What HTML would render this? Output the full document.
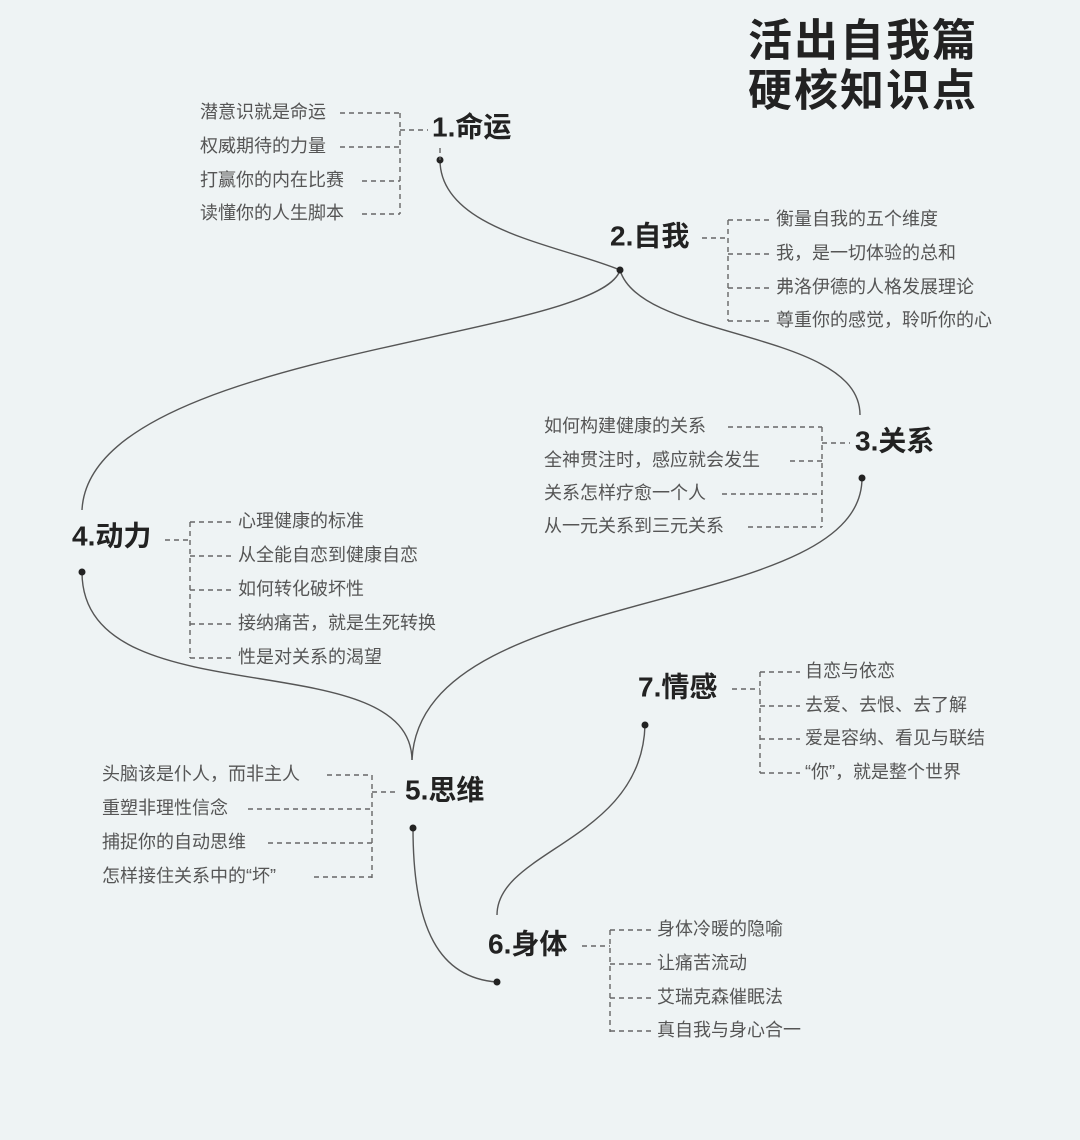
<!DOCTYPE html>
<html><head><meta charset="utf-8"><style>
html,body{margin:0;padding:0;background:#eef3f4;}
svg{display:block;font-family:"Liberation Sans","Noto Sans CJK SC",sans-serif;}
.t{font-size:18px;fill:#555;dominant-baseline:middle;}
.n{font-size:28px;fill:#222;dominant-baseline:middle;font-weight:bold;}
.d{stroke:#666;stroke-width:1.4;stroke-dasharray:5,4;fill:none;}
.c{stroke:#555;stroke-width:1.4;fill:none;}
</style></head><body>
<svg width="1080" height="1140" viewBox="0 0 1080 1140">
<rect width="1080" height="1140" fill="#eef3f4"/>
<text x="748" y="44" style="font-size:44px;fill:#222;dominant-baseline:middle;letter-spacing:2px;font-weight:bold">活出自我篇</text>
<text x="748" y="94" style="font-size:44px;fill:#222;dominant-baseline:middle;letter-spacing:2px;font-weight:bold">硬核知识点</text>

<!-- curves -->
<path class="c" d="M440,160 C440,230 560,245 620,270"/>
<path class="c" d="M620,270 C600,340 90,350 82,510"/>
<path class="c" d="M620,270 C640,340 860,330 860,415"/>
<path class="c" d="M862,478 C862,620 420,580 412,760"/>
<path class="c" d="M82,572 C82,720 410,640 412,760"/>
<path class="c" d="M413,828 C413,930 440,978 497,982"/>
<path class="c" d="M497,915 C497,850 642,840 645,725"/>

<g fill="#222">
<circle cx="440" cy="160" r="3.5"/><circle cx="620" cy="270" r="3.5"/><circle cx="862" cy="478" r="3.5"/>
<circle cx="82" cy="572" r="3.5"/><circle cx="413" cy="828" r="3.5"/><circle cx="497" cy="982" r="3.5"/><circle cx="645" cy="725" r="3.5"/>
</g>

<!-- 1 -->
<text class="n" x="432" y="129">1.命运</text>
<path class="d" d="M440,148 V160 M400,113 V214 M400,130 H428 M340,113 H400 M340,147 H400 M362,181 H400 M362,214 H400"/>
<text class="t" x="200" y="113">潜意识就是命运</text>
<text class="t" x="200" y="147">权威期待的力量</text>
<text class="t" x="200" y="181">打赢你的内在比赛</text>
<text class="t" x="200" y="214">读懂你的人生脚本</text>

<!-- 2 -->
<text class="n" x="610" y="238">2.自我</text>
<path class="d" d="M702,238 H728 M728,220 V321 M728,220 H770 M728,254 H770 M728,288 H770 M728,321 H770"/>
<text class="t" x="776" y="220">衡量自我的五个维度</text>
<text class="t" x="776" y="254">我，是一切体验的总和</text>
<text class="t" x="776" y="288">弗洛伊德的人格发展理论</text>
<text class="t" x="776" y="321">尊重你的感觉，聆听你的心</text>

<!-- 3 -->
<text class="n" x="855" y="443">3.关系</text>
<path class="d" d="M822,443 H850 M822,427 V527 M728,427 H822 M790,461 H822 M722,494 H822 M748,527 H822"/>
<text class="t" x="544" y="427">如何构建健康的关系</text>
<text class="t" x="544" y="461">全神贯注时，感应就会发生</text>
<text class="t" x="544" y="494">关系怎样疗愈一个人</text>
<text class="t" x="544" y="527">从一元关系到三元关系</text>

<!-- 4 -->
<text class="n" x="72" y="538">4.动力</text>
<path class="d" d="M165,540 H190 M190,522 V658 M190,522 H232 M190,556 H232 M190,590 H232 M190,624 H232 M190,658 H232"/>
<text class="t" x="238" y="522">心理健康的标准</text>
<text class="t" x="238" y="556">从全能自恋到健康自恋</text>
<text class="t" x="238" y="590">如何转化破坏性</text>
<text class="t" x="238" y="624">接纳痛苦，就是生死转换</text>
<text class="t" x="238" y="658">性是对关系的渴望</text>

<!-- 5 -->
<text class="n" x="405" y="792">5.思维</text>
<path class="d" d="M372,792 H398 M372,775 V878 M327,775 H372 M248,809 H372 M268,843 H372 M314,877 H372"/>
<text class="t" x="102" y="775">头脑该是仆人，而非主人</text>
<text class="t" x="102" y="809">重塑非理性信念</text>
<text class="t" x="102" y="843">捕捉你的自动思维</text>
<text class="t" x="102" y="877">怎样接住关系中的“坏”</text>

<!-- 6 -->
<text class="n" x="488" y="946">6.身体</text>
<path class="d" d="M582,946 H610 M610,930 V1032 M610,930 H651 M610,964 H651 M610,998 H651 M610,1031 H651"/>
<text class="t" x="657" y="930">身体冷暖的隐喻</text>
<text class="t" x="657" y="964">让痛苦流动</text>
<text class="t" x="657" y="998">艾瑞克森催眠法</text>
<text class="t" x="657" y="1031">真自我与身心合一</text>

<!-- 7 -->
<text class="n" x="638" y="689">7.情感</text>
<path class="d" d="M732,689 H760 M760,672 V773 M760,672 H800 M760,706 H800 M760,739 H800 M760,773 H800"/>
<text class="t" x="805" y="672">自恋与依恋</text>
<text class="t" x="805" y="706">去爱、去恨、去了解</text>
<text class="t" x="805" y="739">爱是容纳、看见与联结</text>
<text class="t" x="805" y="773">“你”，就是整个世界</text>
</svg>
</body></html>
